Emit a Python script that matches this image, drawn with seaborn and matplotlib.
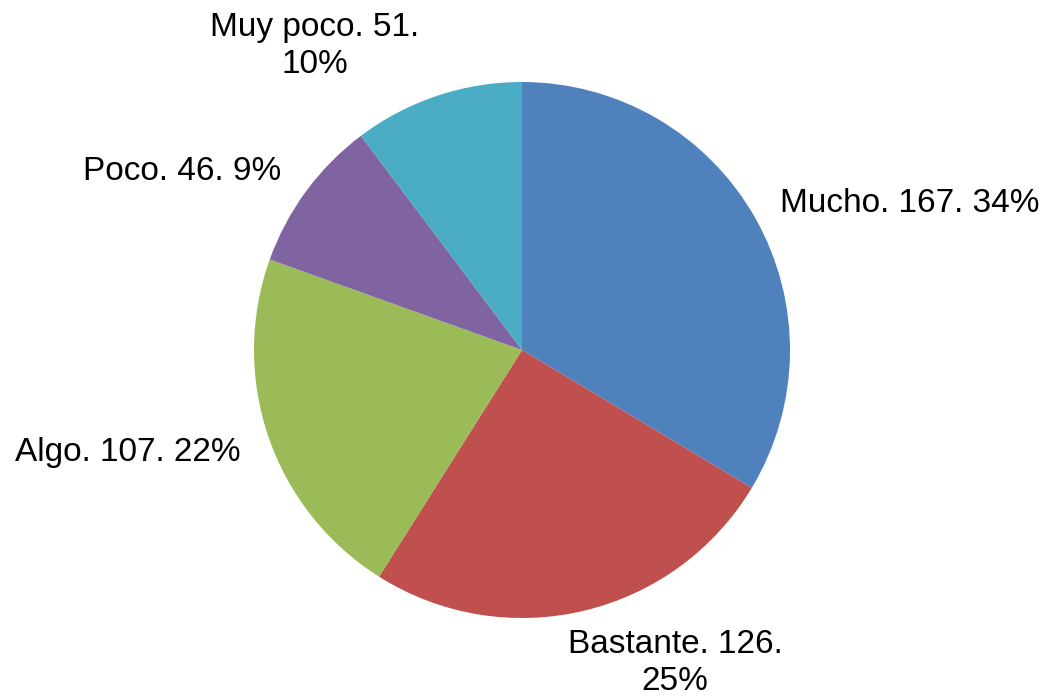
import matplotlib
matplotlib.use("Agg")
import matplotlib.pyplot as plt
import seaborn as sns

categories = ["Mucho", "Bastante", "Algo", "Poco", "Muy poco"]
values = [167, 126, 107, 46, 51]
percents = ["34%", "25%", "22%", "9%", "10%"]
colors = ["#4F81BD", "#C0504D", "#9BBB59", "#8064A2", "#4BACC6"]

sns.set_theme(style="white")
plt.rcParams['font.family'] = ['Liberation Sans', 'DejaVu Sans']

W, H = 1044, 700
cx, cy, R = 522, 350, 268
fig = plt.figure(figsize=(W / 100, H / 100), dpi=100)
ax = fig.add_axes([0, 0, 1, 1])
ax.pie(values, colors=colors, startangle=90, counterclock=False,
       radius=1, wedgeprops=dict(linewidth=0))
ax.set_xlim(-cx / R, (W - cx) / R)
ax.set_ylim(-(H - cy) / R, cy / R)
ax.set_aspect("equal")
ax.axis("off")

# label layout (pixel centers) and line breaks
label_px = [(910, 204), (675, 663), (128, 452), (182, 172), (315, 46)]
texts = [
    f"{categories[0]}. {values[0]}. {percents[0]}",
    f"{categories[1]}. {values[1]}.\n{percents[1]}",
    f"{categories[2]}. {values[2]}. {percents[2]}",
    f"{categories[3]}. {values[3]}. {percents[3]}",
    f"{categories[4]}. {values[4]}.\n{percents[4]}",
]
for (px, py), t in zip(label_px, texts):
    ax.text((px - cx) / R, (cy - py) / R, t, ha="center", va="center",
            fontsize=24, color="black", linespacing=1.22)

fig.savefig("out.png", dpi=100)
